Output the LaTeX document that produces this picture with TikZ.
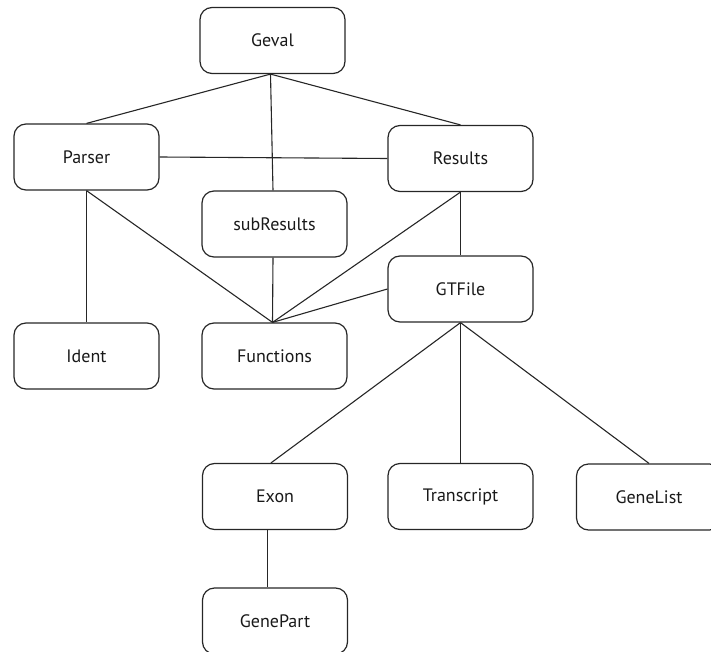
\documentclass[tikz,border=0pt]{standalone}
\usepackage{fontspec}
\setmainfont{PT Sans}
\begin{document}
\begin{tikzpicture}[x=1pt,y=-1pt,
  box/.style={draw=black!85, line width=1.2pt, rounded corners=12pt, minimum width=145pt, minimum height=66pt, inner sep=0pt, text=black!90, font=\fontsize{18}{21}\selectfont},
  link/.style={draw=black!85, line width=1.1pt}]
\useasboundingbox (0,0) rectangle (711,652);
\clip (0,0) rectangle (711,652);
\node[box] (geval) at (272.5,40.5) {Geval};
\node[box] (parser) at (86.5,157) {Parser};
\node[box] (results) at (460.5,158.5) {Results};
\node[box] (subres) at (274.5,224) {subResults};
\node[box] (gtfile) at (460.5,289) {GTFile};
\node[box] (ident) at (86.5,356) {Ident};
\node[box] (functions) at (274.5,356) {Functions};
\node[box] (exon) at (275,496.5) {Exon};
\node[box] (transcript) at (460.5,496.5) {Transcript};
\node[box] (genelist) at (649,497) {GeneList};
\node[box] (genepart) at (275,621) {GenePart};
\draw[link] ([xshift=-2pt]geval.south) -- (parser.north);
\draw[link] ([xshift=-2pt]geval.south) -- ([xshift=-1.5pt]subres.north);
\draw[link] ([xshift=-2pt]geval.south) -- (results.north);
\draw[link] (parser.east) -- (results.west);
\draw[link] (parser.south) -- (ident.north);
\draw[link] (parser.south) -- ([xshift=-2pt]functions.north);
\draw[link] ([xshift=-1.5pt]subres.south) -- ([xshift=-2pt]functions.north);
\draw[link] (results.south) -- ([xshift=-2pt]functions.north);
\draw[link] (results.south) -- (gtfile.north);
\draw[link] (gtfile.west) -- ([xshift=-2pt]functions.north);
\draw[link] (gtfile.south) -- ([xshift=-4pt]exon.north);
\draw[link] (gtfile.south) -- (transcript.north);
\draw[link] (gtfile.south) -- (genelist.north);
\draw[link] ([xshift=-7.5pt]exon.south) -- ([xshift=-7.5pt]genepart.north);
\end{tikzpicture}
\end{document}
